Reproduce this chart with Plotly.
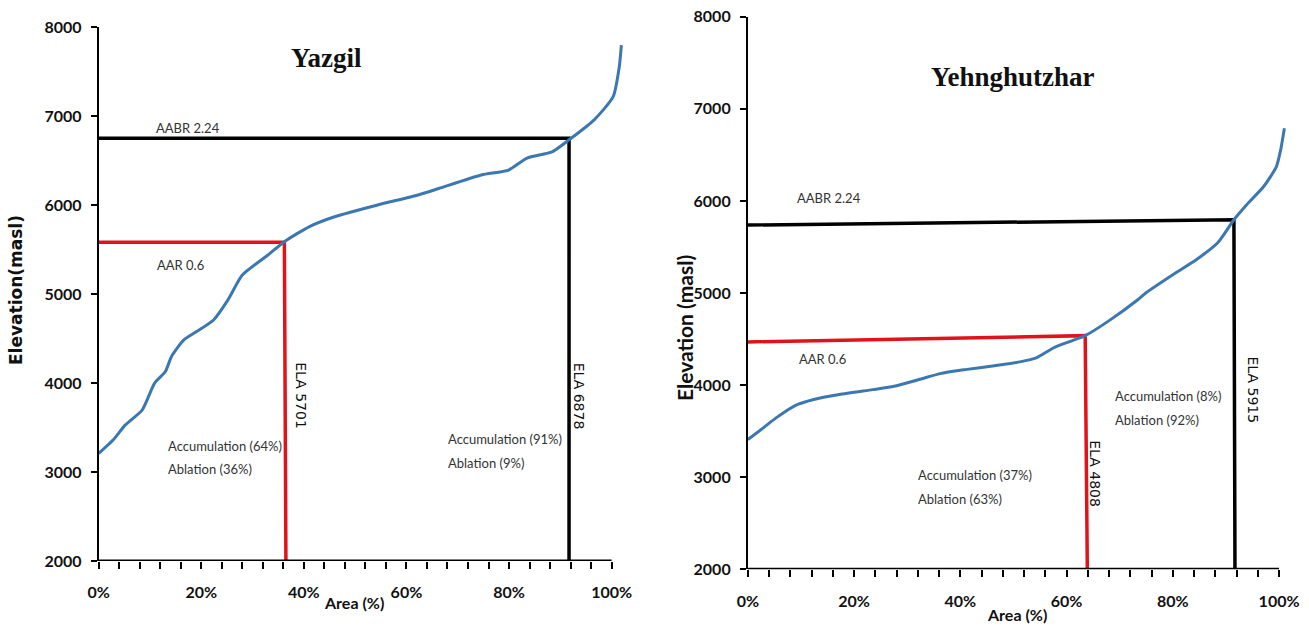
import plotly.graph_objects as go

# Hypsometric curves: cumulative glacier area (fraction) vs elevation (m a.s.l.)
yazgil_area = [0.0, 0.028, 0.052, 0.085, 0.109, 0.130, 0.142, 0.166, 0.191, 0.224,
               0.252, 0.280, 0.330, 0.362, 0.411, 0.460, 0.542, 0.623, 0.664, 0.746,
               0.799, 0.835, 0.884, 0.917, 0.966, 1.003, 1.015, 1.019]
yazgil_elev = [3210, 3360, 3530, 3700, 4000, 4130, 4300, 4485, 4580, 4710,
               4935, 5215, 5440, 5590, 5760, 5870, 6000, 6115, 6190, 6340,
               6395, 6530, 6600, 6735, 6960, 7220, 7560, 7800]

yehng_area = [0.0, 0.029, 0.053, 0.089, 0.124, 0.172, 0.235, 0.275, 0.322, 0.362,
              0.409, 0.464, 0.512, 0.543, 0.575, 0.607, 0.635, 0.678, 0.734, 0.749,
              0.805, 0.844, 0.884, 0.915, 0.939, 0.971, 0.995, 1.003, 1.010]
yehng_elev = [3409, 3536, 3644, 3778, 3843, 3897, 3951, 3987, 4060, 4125,
              4168, 4211, 4252, 4295, 4403, 4475, 4537, 4692, 4927, 5000,
              5217, 5361, 5542, 5795, 5958, 6156, 6373, 6554, 6790]

# Reference lines (AAR in red, AABR in black): horizontal then vertical legs
yazgil_aar_x = [0.0, 0.362, 0.365]
yazgil_aar_y = [5584, 5584, 2000]
yazgil_aabr_x = [0.0, 0.917, 0.917]
yazgil_aabr_y = [6752, 6752, 2000]

yehng_aar_x = [0.0, 0.635, 0.639]
yehng_aar_y = [4469, 4537, 2000]
yehng_aabr_x = [0.0, 0.915, 0.917]
yehng_aabr_y = [5738, 5795, 2000]

x_tick_vals = [0.0, 0.2, 0.4, 0.6, 0.8, 1.0]
x_tick_labels = ["0%", "20%", "40%", "60%", "80%", "100%"]
y_tick_vals = [2000, 3000, 4000, 5000, 6000, 7000, 8000]
y_tick_labels = ["2000", "3000", "4000", "5000", "6000", "7000", "8000"]

W, H = 1309, 626
CURVE = "#3b78b2"
RED = "#e2121b"
TICKFONT = dict(family="Lato, sans-serif", size=16, color="#111", weight="bold")
LABELFONT = dict(family="Lato, sans-serif", size=13, color="#333")
ELAFONT = dict(family="DejaVu Sans, Verdana, sans-serif", size=14, color="#111")
TITLEFONT = dict(family="Liberation Serif, Times New Roman, serif", size=27, color="#111")

fig = go.Figure()

panels = [
    ("x", "y", yazgil_area, yazgil_elev, yazgil_aar_x, yazgil_aar_y, yazgil_aabr_x, yazgil_aabr_y),
    ("x2", "y2", yehng_area, yehng_elev, yehng_aar_x, yehng_aar_y, yehng_aabr_x, yehng_aabr_y),
]
for xa, ya, ax, ay, rx, ry, bx, by in panels:
    fig.add_trace(go.Scatter(x=bx, y=by, xaxis=xa, yaxis=ya, mode="lines",
                             line=dict(color="black", width=3.5), showlegend=False))
    fig.add_trace(go.Scatter(x=rx, y=ry, xaxis=xa, yaxis=ya, mode="lines",
                             line=dict(color=RED, width=3.5), showlegend=False))
    fig.add_trace(go.Scatter(x=ax, y=ay, xaxis=xa, yaxis=ya, mode="lines",
                             line=dict(color=CURVE, width=3, shape="spline", smoothing=0.6),
                             showlegend=False))


def xaxis_cfg(domain):
    return dict(domain=domain, range=[0, 1.03], showgrid=False, zeroline=False, showline=False,
                automargin=False,
                tickmode="array", tickvals=x_tick_vals, ticktext=x_tick_labels,
                ticks="outside", ticklen=7, tickwidth=1.5, tickcolor="black",
                minor=dict(tick0=0, dtick=0.04, ticks="outside", ticklen=7,
                           tickwidth=1.5, tickcolor="black"),
                tickfont=TICKFONT, ticklabelstandoff=10, fixedrange=True)


def yaxis_cfg(domain, anchor):
    return dict(domain=domain, anchor=anchor, range=[2000, 8000], showgrid=False,
                zeroline=False, showline=True, linecolor="black", linewidth=2,
                automargin=False,
                tickmode="array", tickvals=y_tick_vals, ticktext=y_tick_labels,
                ticks="outside", ticklen=6, tickwidth=1.5, tickcolor="black",
                tickfont=TICKFONT, ticklabelstandoff=6, fixedrange=True)


fig.update_layout(
    template="none",
    width=W, height=H,
    margin=dict(l=0, r=0, t=0, b=0, pad=0),
    paper_bgcolor="white", plot_bgcolor="white",
    xaxis=dict(**xaxis_cfg([98.7 / W, 627 / W]), anchor="y"),
    yaxis=yaxis_cfg([1 - 561 / H, 1 - 27.3 / H], "x"),
    xaxis2=dict(**xaxis_cfg([747.9 / W, 1295 / W]), anchor="y2"),
    yaxis2=yaxis_cfg([1 - 569.3 / H, 1 - 16.7 / H], "x2"),
)

# x-axis baselines, 0-100 %
for xa, ya in [("x", "y"), ("x2", "y2")]:
    fig.add_shape(type="line", xref=xa, yref=ya, x0=0, x1=1, y0=2000, y1=2000,
                  line=dict(color="black", width=3))


def note(xa, ya, x, y, text, font, **kw):
    fig.add_annotation(xref=xa, yref=ya, x=x, y=y, text=text, showarrow=False,
                       font=font, **kw)


def left_note(xa, ya, x, y, text):
    note(xa, ya, x, y, text, LABELFONT, xanchor="left", yanchor="middle")


# Yazgil
note("x", "y", 0.445, 7660, "<b>Yazgil</b>", TITLEFONT)
note("x", "y", 0.174, 6865, "AABR 2.24", LABELFONT)
note("x", "y", 0.16, 5328, "AAR 0.6", LABELFONT)
note("x", "y", 0.394, 3855, "ELA 5701", ELAFONT, textangle=90)
note("x", "y", 0.937, 3855, "ELA 6878", ELAFONT, textangle=90)
left_note("x", "y", 0.131, 3297, "Accumulation (64%)")
left_note("x", "y", 0.131, 3035, "Ablation (36%)")
left_note("x", "y", 0.678, 3372, "Accumulation (91%)")
left_note("x", "y", 0.678, 3100, "Ablation (9%)")

# Yehnghutzhar
note("x2", "y2", 0.50, 7350, "<b>Yehnghutzhar</b>", TITLEFONT)
note("x2", "y2", 0.152, 6030, "AABR 2.24", LABELFONT)
note("x2", "y2", 0.14, 4284, "AAR 0.6", LABELFONT)
note("x2", "y2", 0.654, 3040, "ELA 4808", ELAFONT, textangle=90)
note("x2", "y2", 0.951, 3952, "ELA 5915", ELAFONT, textangle=90)
left_note("x2", "y2", 0.317, 3022, "Accumulation (37%)")
left_note("x2", "y2", 0.317, 2766, "Ablation (63%)")
left_note("x2", "y2", 0.688, 3879, "Accumulation (8%)")
left_note("x2", "y2", 0.688, 3626, "Ablation (92%)")


def paper_note(px, py, text, font, **kw):
    fig.add_annotation(xref="paper", yref="paper", x=px / W, y=1 - py / H, text=text,
                       showarrow=False, font=font, xanchor="center", yanchor="middle", **kw)


# axis titles
AXFONT = dict(family="Lato, sans-serif", size=16, color="#111", weight="bold")
paper_note(354, 602, "Area (%)", AXFONT)
paper_note(1017, 614, "Area (%)", AXFONT)
paper_note(16, 290, "<b>Elevation(masl)</b>",
           dict(family="DejaVu Sans, Verdana, sans-serif", size=17, color="#111"),
           textangle=-90)
paper_note(684, 328, "Elevation (masl)",
           dict(family="Lato, sans-serif", size=21, color="#111", weight="bold"),
           textangle=-90)

fig.write_html("out.html")
